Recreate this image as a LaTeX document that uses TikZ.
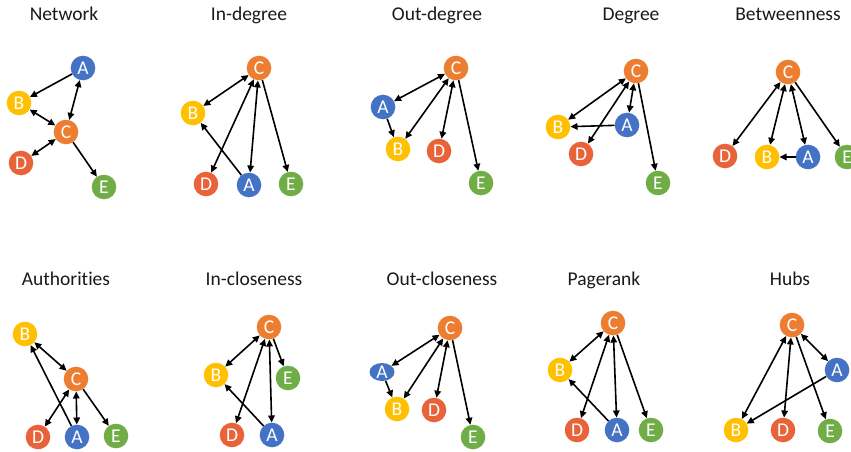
\documentclass[tikz,border=0pt]{standalone}
\usepackage{fontspec}
\setmainfont{Carlito}[Ligatures=NoCommon]
\usetikzlibrary{arrows.meta,shapes.geometric}

\definecolor{colA}{HTML}{4472C4}
\definecolor{colB}{HTML}{FFC000}
\definecolor{colC}{HTML}{ED7D31}
\definecolor{colD}{HTML}{E9633A}
\definecolor{colE}{HTML}{70AD47}

\tikzset{
  vtx/.style={circle, minimum size=24.6pt, inner sep=0pt, text=white,
              font=\fontsize{19.5}{19.5}\selectfont},
  vA/.style={vtx, fill=colA},
  vB/.style={vtx, fill=colB},
  vC/.style={vtx, fill=colC},
  vD/.style={vtx, fill=colD},
  vE/.style={vtx, fill=colE},
  heading/.style={anchor=base, inner sep=0pt, text=black!90,
                  font=\fontsize{19.5}{20}\selectfont},
  lnk/.style={line width=1.6pt, black},
  one/.style={lnk, -{Triangle[length=7pt,width=6.5pt]}},
  two/.style={lnk, {Triangle[length=7pt,width=6.5pt]}-{Triangle[length=7pt,width=6.5pt]}},
}

\begin{document}
\begin{tikzpicture}[x=1pt, y=-1pt]
\useasboundingbox (0,0) rectangle (851,452);
\clip (0,0) rectangle (851,452);

% ---- Network ----
\node[heading] (t1) at (64,21) {Network};
\node[vA] (a1) at (83,68) {A};
\node[vB] (b1) at (19,103) {B};
\node[vC] (c1) at (66,132) {C};
\node[vD] (d1) at (21,163) {D};
\node[vE] (e1) at (104,187) {E};
\draw[one] (a1) -- (b1);
\draw[two] (a1) -- (c1);
\draw[two] (b1) -- (c1);
\draw[two] (c1) -- (d1);
\draw[one] (c1) -- (e1);

% ---- In-degree ----
\node[heading] (t2) at (249,21) {In-degree};
\node[vC] (c2) at (259,68) {C};
\node[vB] (b2) at (193,113) {B};
\node[vD] (d2) at (206,184) {D};
\node[vA] (a2) at (249,185) {A};
\node[vE] (e2) at (291,184) {E};
\draw[two] (c2) -- (b2);
\draw[two] (c2) -- (d2);
\draw[two] (c2) -- (a2);
\draw[one] (c2) -- (e2);
\draw[one] (a2) -- (b2);

% ---- Out-degree ----
\node[heading] (t3) at (437,21) {Out-degree};
\node[vC] (c3) at (456,68) {C};
\node[vA] (a3) at (383,107) {A};
\node[vB] (b3) at (398,149) {B};
\node[vD] (d3) at (439,151) {D};
\node[vE] (e3) at (481,183) {E};
\draw[two] (c3) -- (a3);
\draw[one] (a3) -- (b3);
\draw[two] (c3) -- (b3);
\draw[two] (c3) -- (d3);
\draw[one] (c3) -- (e3);

% ---- Degree ----
\node[heading] (t4) at (631,21) {Degree};
\node[vC] (c4) at (636,71) {C};
\node[vB] (b4) at (558,127) {B};
\node[vA] (a4) at (627,125) {A};
\node[vD] (d4) at (581,154) {D};
\node[vE] (e4) at (658,183) {E};
\draw[two] (c4) -- (b4);
\draw[one] (a4) -- (b4);
\draw[two] (c4) -- (d4);
\draw[two] (c4) -- (a4);
\draw[one] (c4) -- (e4);

% ---- Betweenness ----
\node[heading] (t5) at (788,21) {Betweenness};
\node[vC] (c5) at (788,72) {C};
\node[vD] (d5) at (725,156) {D};
\node[vB] (b5) at (767,157) {B};
\node[vA] (a5) at (808,157) {A};
\node[vE] (e5) at (847,157) {E};
\draw[two] (c5) -- (d5);
\draw[two] (c5) -- (b5);
\draw[two] (c5) -- (a5);
\draw[one] (a5) -- (b5);
\draw[one] (c5) -- (e5);

% ---- Authorities ----
\node[heading] (t6) at (66,285) {Authorities};
\node[vB] (b6) at (25,334) {B};
\node[vC] (c6) at (76,379) {C};
\node[vD] (d6) at (38,437) {D};
\node[vA] (a6) at (77,437) {A};
\node[vE] (e6) at (116,436) {E};
\draw[two] (b6) -- (c6);
\draw[one] (a6) -- (b6);
\draw[two] (c6) -- (d6);
\draw[two] (c6) -- (a6);
\draw[one] (c6) -- (e6);

% ---- In-closeness ----
\node[heading] (t7) at (254,285) {In-closeness};
\node[vC] (c7) at (269,327) {C};
\node[vB] (b7) at (216,375) {B};
\node[vE] (e7) at (288,378) {E};
\node[vD] (d7) at (232,435) {D};
\node[vA] (a7) at (272,435) {A};
\draw[two] (c7) -- (b7);
\draw[one] (c7) -- (e7);
\draw[two] (c7) -- (d7);
\draw[two] (c7) -- (a7);
\draw[one] (a7) -- (b7);

% ---- Out-closeness ----
\node[heading] (t8) at (442,285) {Out-closeness};
\node[vC] (c8) at (450,328) {C};
\node[vA, ellipse, minimum width=25pt, minimum height=18pt] (a8) at (382,372) {A};
\node[vB] (b8) at (397,409) {B};
\node[vD] (d8) at (434,410) {D};
\node[vE] (e8) at (473,437) {E};
\draw[two] (c8) -- (a8);
\draw[one] (a8) -- (b8);
\draw[two] (c8) -- (b8);
\draw[two] (c8) -- (d8);
\draw[one] (c8) -- (e8);

% ---- Pagerank ----
\node[heading] (t9) at (604,285) {Pagerank};
\node[vC] (c9) at (613,323) {C};
\node[vB] (b9) at (560,370) {B};
\node[vD] (d9) at (577,430) {D};
\node[vA] (a9) at (617,430) {A};
\node[vE] (e9) at (651,430) {E};
\draw[two] (c9) -- (b9);
\draw[one] (a9) -- (b9);
\draw[two] (c9) -- (d9);
\draw[two] (c9) -- (a9);
\draw[one] (c9) -- (e9);

% ---- Hubs ----
\node[heading] (t10) at (790,285) {Hubs};
\node[vC] (c10) at (792,325) {C};
\node[vA] (a10) at (837,370) {A};
\node[vB] (b10) at (736,430) {B};
\node[vD] (d10) at (783,430) {D};
\node[vE] (e10) at (830,431) {E};
\draw[two] (c10) -- (a10);
\draw[two] (c10) -- (b10);
\draw[one] (a10) -- (b10);
\draw[two] (c10) -- (d10);
\draw[one] (c10) -- (e10);
\end{tikzpicture}
\end{document}
